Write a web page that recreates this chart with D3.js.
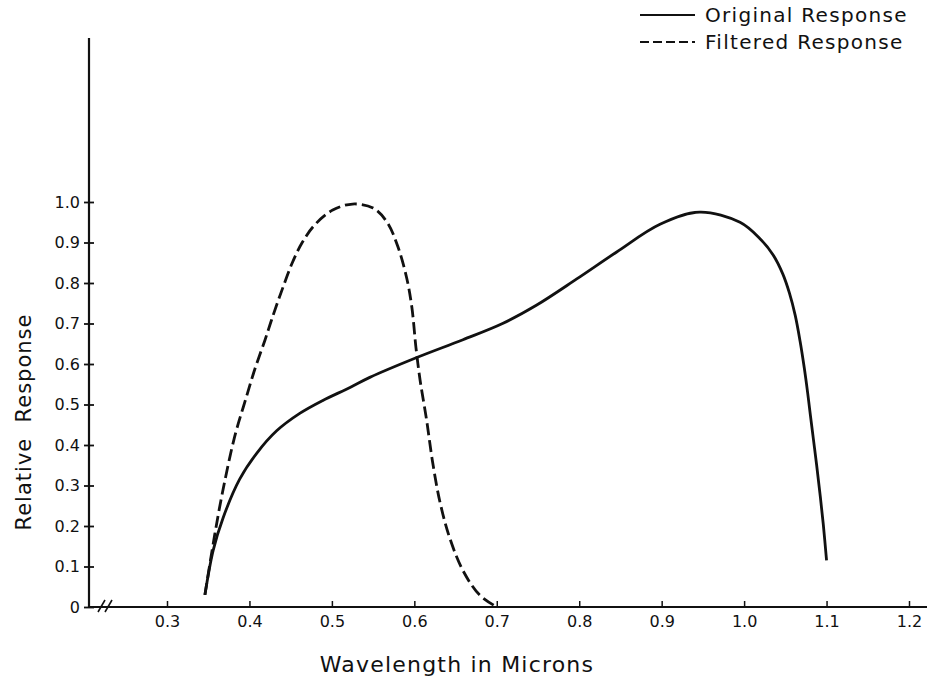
<!DOCTYPE html>
<html>
<head>
<meta charset="utf-8">
<script src="https://cdn.jsdelivr.net/npm/d3@7"></script>
<style>
  body { margin: 0; background: #fff; }
  text { font-family: "DejaVu Sans", sans-serif; fill: #111; }
</style>
</head>
<body>
<div id="chart"></div>
<script>
// wavelength (microns) / relative response
const originalWave = [0.346, 0.356, 0.368, 0.388, 0.409, 0.433, 0.461, 0.489, 0.522, 0.546, 0.603, 0.659, 0.707, 0.748, 0.797, 0.845, 0.898, 0.946, 0.995, 1.019, 1.035, 1.047, 1.055, 1.062, 1.068, 1.073, 1.077, 1.080, 1.084, 1.088, 1.092, 1.096, 1.100];
const originalResp = [0.03, 0.14, 0.22, 0.315, 0.38, 0.435, 0.478, 0.51, 0.542, 0.567, 0.616, 0.66, 0.70, 0.745, 0.81, 0.876, 0.945, 0.975, 0.95, 0.91, 0.87, 0.822, 0.775, 0.72, 0.655, 0.59, 0.53, 0.48, 0.415, 0.35, 0.28, 0.205, 0.115];

const filteredWave = [0.346, 0.358, 0.368, 0.382, 0.395, 0.407, 0.419, 0.427, 0.439, 0.452, 0.464, 0.479, 0.501, 0.525, 0.55, 0.567, 0.58, 0.591, 0.597, 0.602, 0.607, 0.615, 0.622, 0.631, 0.643, 0.659, 0.679, 0.70];
const filteredResp = [0.03, 0.18, 0.29, 0.42, 0.51, 0.59, 0.66, 0.71, 0.78, 0.85, 0.90, 0.943, 0.98, 0.995, 0.985, 0.95, 0.89, 0.81, 0.74, 0.64, 0.56, 0.46, 0.36, 0.26, 0.17, 0.09, 0.03, 0.0];

const xTicks = [0.3, 0.4, 0.5, 0.6, 0.7, 0.8, 0.9, 1.0, 1.1, 1.2];
const yTicks = [0, 0.1, 0.2, 0.3, 0.4, 0.5, 0.6, 0.7, 0.8, 0.9, 1.0];
const legendNames = ["Original Response", "Filtered Response"];

const W = 927, H = 686;
const AXIS_X = 89, AXIS_Y = 607, AXIS_TOP = 38;
const DASH = "12,5";

const svg = d3.select("#chart").append("svg")
  .attr("width", W).attr("height", H);

const x = d3.scaleLinear().domain([0.3, 1.2]).range([167, 909]);
const y = d3.scaleLinear().domain([0, 1]).range([AXIS_Y, 202]);

// axes
svg.append("line")
  .attr("x1", AXIS_X).attr("x2", AXIS_X)
  .attr("y1", AXIS_TOP).attr("y2", AXIS_Y)
  .attr("stroke", "#111").attr("stroke-width", 2.2);
svg.append("line")
  .attr("x1", AXIS_X).attr("x2", W)
  .attr("y1", AXIS_Y).attr("y2", AXIS_Y)
  .attr("stroke", "#111").attr("stroke-width", 2.2);

const yAxis = svg.append("g")
  .attr("transform", `translate(${AXIS_X},0)`)
  .call(d3.axisLeft(y).tickValues(yTicks)
    .tickSize(5)
    .tickFormat(d => d === 0 ? "0" : d3.format(".1f")(d)));
yAxis.select(".domain").remove();
yAxis.selectAll(".tick line")
  .attr("x1", -5).attr("x2", 5)
  .attr("stroke", "#111").attr("stroke-width", 1.8);
yAxis.selectAll(".tick text")
  .attr("x", -9)
  .style("font-size", "16px");

const xAxis = svg.append("g")
  .attr("transform", `translate(0,${AXIS_Y})`)
  .call(d3.axisBottom(x).tickValues(xTicks)
    .tickSize(0)
    .tickFormat(d3.format(".1f")));
xAxis.select(".domain").remove();
xAxis.selectAll(".tick line")
  .attr("y1", -6).attr("y2", 0)
  .attr("stroke", "#111").attr("stroke-width", 1.5);
xAxis.selectAll(".tick text")
  .attr("y", 9)
  .style("font-size", "16px");

// axis break
[101, 108].forEach(bx => {
  svg.append("line")
    .attr("x1", bx - 3).attr("x2", bx + 4)
    .attr("y1", AXIS_Y + 5).attr("y2", AXIS_Y - 7)
    .attr("stroke", "#111").attr("stroke-width", 1.6);
});

// curves
const line = d3.line()
  .x(d => x(d[0]))
  .y(d => y(d[1]))
  .curve(d3.curveCatmullRom.alpha(0.5));

const original = originalWave.map((w, i) => [w, originalResp[i]]);
const filtered = filteredWave.map((w, i) => [w, filteredResp[i]]);

svg.append("path")
  .datum(original)
  .attr("d", line)
  .attr("fill", "none")
  .attr("stroke", "#111")
  .attr("stroke-width", 2.8);

svg.append("path")
  .datum(filtered)
  .attr("d", line)
  .attr("fill", "none")
  .attr("stroke", "#111")
  .attr("stroke-width", 2.8)
  .attr("stroke-dasharray", DASH);

// titles
svg.append("text")
  .attr("x", 457).attr("y", 672)
  .attr("text-anchor", "middle")
  .style("font-size", "22px")
  .style("letter-spacing", "1.2px")
  .text("Wavelength in Microns");

svg.append("text")
  .attr("transform", "translate(31,422) rotate(-90)")
  .attr("text-anchor", "middle")
  .style("font-size", "21px")
  .style("letter-spacing", "1px")
  .style("white-space", "pre")
  .text("Relative  Response");

// legend
const legend = svg.append("g");
legendNames.forEach((name, i) => {
  const ly = 15 + i * 27;
  legend.append("line")
    .attr("x1", 640).attr("x2", 695)
    .attr("y1", ly).attr("y2", ly)
    .attr("stroke", "#111").attr("stroke-width", 2.2)
    .attr("stroke-dasharray", i === 0 ? null : "9,4");
  legend.append("text")
    .attr("x", 705).attr("y", ly + 7)
    .style("font-size", "20px")
    .style("letter-spacing", "1.3px")
    .text(name);
});
</script>
</body>
</html>
